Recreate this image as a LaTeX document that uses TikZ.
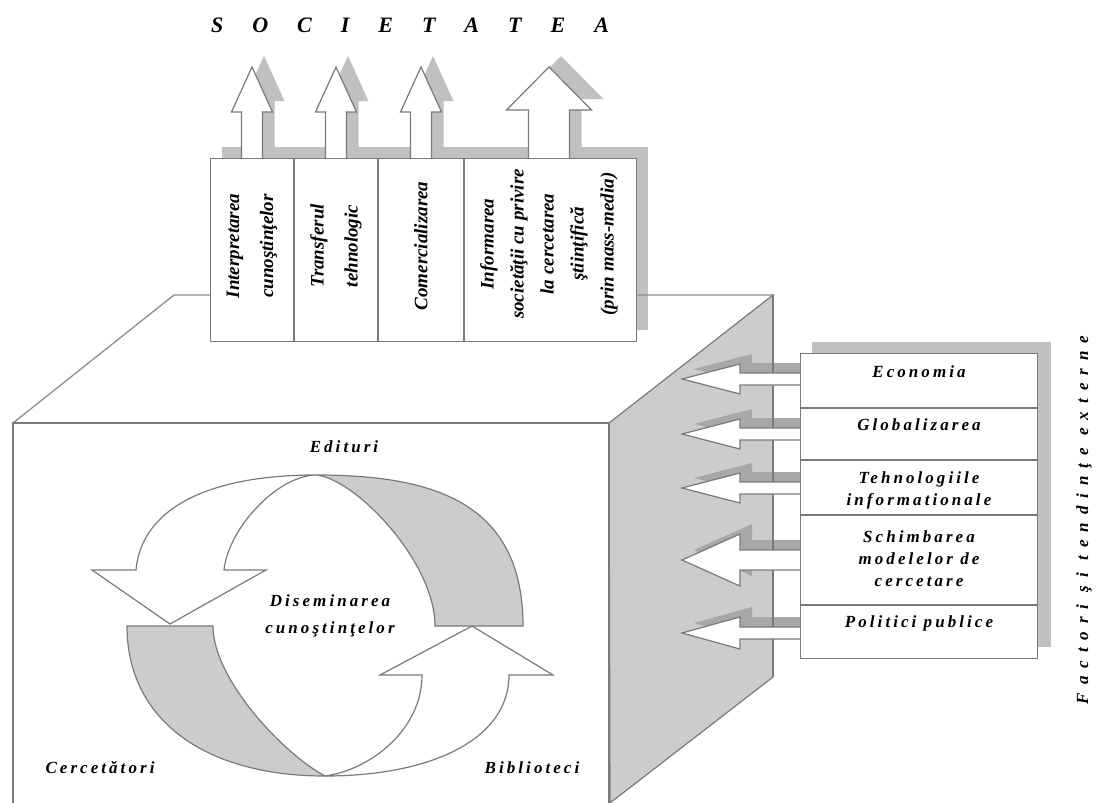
\documentclass[tikz,border=0pt]{standalone}
\usepackage{fontspec}
\setmainfont{Liberation Serif}
\newfontfamily\spacedfont[LetterSpace=18]{Liberation Serif}
\newfontfamily\widefont[LetterSpace=47]{Liberation Serif}

\definecolor{edgec}{RGB}{122,122,122}
\definecolor{facec}{RGB}{204,204,204}
\definecolor{shadec}{RGB}{192,192,192}
\definecolor{ashade}{RGB}{168,168,168}

% block arrow pointing up, standing on the top edge of the upper box (y=158)
% #1 centre x, #2 half shaft width, #3 half head width, #4 head base y, #5 tip y
\newcommand{\uparrowpath}[5]{(#1-#2,158) -- (#1-#2,#4) -- (#1-#3,#4) -- (#1,#5) -- (#1+#3,#4) -- (#1+#2,#4) -- (#1+#2,158)}
% block arrow pointing left, leaving the factor box (x=800)
% #1 centre y, #2 half shaft height, #3 half head height
\newcommand{\leftarrowpath}[3]{(800,#1-#2) -- (740,#1-#2) -- (740,#1-#3) -- (682,#1) -- (740,#1+#3) -- (740,#1+#2) -- (800,#1+#2)}

\tikzset{
  edge/.style={draw=edgec, line width=1.3pt},
  whiteshape/.style={fill=white, draw=edgec, line width=1.2pt, line join=miter},
  grayshape/.style={fill=facec, draw=edgec, line width=1.2pt, line join=miter},
  collabel/.style={font=\bfseries\itshape\fontsize{19}{34}\selectfont, align=center, rotate=90, inner sep=0pt},
  factorlabel/.style={font=\spacedfont\bfseries\itshape\fontsize{17}{22}\selectfont, align=center, inner sep=0pt},
  cyclelabel/.style={font=\spacedfont\bfseries\itshape\fontsize{17}{27}\selectfont, align=center, inner sep=0pt},
}

\begin{document}
\begin{tikzpicture}[x=1pt, y=-1pt]
\useasboundingbox (0,0) rectangle (1109,803);
\fill[white] (0,0) rectangle (1109,803);

% side face of the block
\filldraw[grayshape] (609,423) -- (773,295) -- (773,677) -- (610,803) -- cycle;

% shadow of the upper box and its arrows
\begin{scope}[shift={(12,-11)}]
  \fill[shadec] (210,158) rectangle (636,341);
  \fill[shadec] \uparrowpath{252}{10.5}{20.5}{112}{67};
  \fill[shadec] \uparrowpath{336}{10.5}{20.5}{112}{67};
  \fill[shadec] \uparrowpath{421}{10.5}{20.5}{112}{67};
  \fill[shadec] \uparrowpath{549}{20.5}{42.5}{110}{67};
\end{scope}

% top face outline
\draw[edge, draw=edgec!85] (13,423) -- (174,295) -- (773,295);

% arrows towards society
\filldraw[whiteshape] \uparrowpath{252}{10.5}{20.5}{112}{67};
\filldraw[whiteshape] \uparrowpath{336}{10.5}{20.5}{112}{67};
\filldraw[whiteshape] \uparrowpath{421}{10.5}{20.5}{112}{67};
\filldraw[whiteshape] \uparrowpath{549}{20.5}{42.5}{110}{67};

% upper box with four columns
\node[whiteshape, anchor=north west, minimum width=426pt, minimum height=183pt, inner sep=0pt] (ubox) at (210,158) {};
\draw[edge] (294,158) -- (294,341);
\draw[edge] (378,158) -- (378,341);
\draw[edge] (464,158) -- (464,341);

% front face
\draw[edge] (13,803) -- (13,423) -- (609,423) -- (609,803);

% shadows of the factor box and its arrows
\fill[shadec] (812,342) rectangle (1051,647);
\begin{scope}[shift={(12,-10)}]
  \fill[ashade] \leftarrowpath{379}{6}{15};
  \fill[ashade] \leftarrowpath{434}{6}{15};
  \fill[ashade] \leftarrowpath{488}{6}{15};
  \fill[ashade] \leftarrowpath{560}{10}{26};
  \fill[ashade] \leftarrowpath{633}{6}{16};
\end{scope}
\draw[edge] (773,295) -- (773,677);

% arrows of the external factors
\filldraw[whiteshape] \leftarrowpath{379}{6}{15};
\filldraw[whiteshape] \leftarrowpath{434}{6}{15};
\filldraw[whiteshape] \leftarrowpath{488}{6}{15};
\filldraw[whiteshape] \leftarrowpath{560}{10}{26};
\filldraw[whiteshape] \leftarrowpath{633}{6}{16};

% factor box
\node[whiteshape, anchor=north west, minimum width=237pt, minimum height=305pt, inner sep=0pt] (rbox) at (800,353) {};
\draw[edge] (800,408) -- (1037,408);
\draw[edge] (800,460) -- (1037,460);
\draw[edge] (800,515) -- (1037,515);
\draw[edge] (800,605) -- (1037,605);

% dissemination cycle: upper arrow (white front, grey back)
\filldraw[whiteshape] (136,570) .. controls (142,505) and (215,475) .. (315,475)
  .. controls (275,477) and (228,530) .. (224,570) -- (266,570) -- (170,624) -- (92,570) -- cycle;
\filldraw[grayshape] (315,475) .. controls (430,475) and (523,500) .. (523,626)
  -- (435,626) .. controls (435,560) and (352,476) .. (315,475) -- cycle;
% lower arrow (grey back, white front)
\filldraw[grayshape] (127,626) -- (213,626) .. controls (213,680) and (285,755) .. (325,776)
  .. controls (205,776) and (127,720) .. (127,626) -- cycle;
\filldraw[whiteshape] (325,776) .. controls (430,776) and (509,740) .. (509,675)
  -- (553,675) -- (472,626) -- (380,675) -- (422,675)
  .. controls (422,730) and (370,770) .. (325,776) -- cycle;

% texts
\node[font=\bfseries\itshape\fontsize{22}{22}\selectfont, inner sep=0pt] (society) at (410,25)
  {S\hspace{29pt}O\hspace{29pt}C\hspace{29pt}I\hspace{29pt}E\hspace{29pt}T\hspace{29pt}A\hspace{29pt}T\hspace{29pt}E\hspace{29pt}A};

\node[collabel] (interp) at (252,246) {Interpretarea\\cunoştinţelor};
\node[collabel] (transf) at (336,246) {Transferul\\tehnologic};
\node[collabel] (comerc) at (421,246) {Comercializarea};
\node[collabel, font=\bfseries\itshape\fontsize{19}{30}\selectfont] (inform) at (549,244)
  {Informarea\\societăţii cu privire\\la cercetarea\\ştiinţifică\\(prin mass-media)};

\node[factorlabel] (econ) at (919,372) {Economia};
\node[factorlabel] (glob) at (919,425) {Globalizarea};
\node[factorlabel] (tehn) at (919,490) {Tehnologiile\\informationale};
\node[factorlabel] (schimb) at (919,559) {Schimbarea\\modelelor de\\cercetare};
\node[factorlabel] (polit) at (919,623) {Politici publice};

\node[font=\widefont\bfseries\itshape\fontsize{17}{17}\selectfont, rotate=90, inner sep=0pt] (factori) at (1084,520)
  {Factori şi tendinţe externe};

\node[cyclelabel] (edit) at (344,447) {Edituri};
\node[cyclelabel] (disem) at (330,616) {Diseminarea\\cunoştinţelor};
\node[cyclelabel] (cerc) at (100,768) {Cercetători};
\node[cyclelabel] (bibl) at (532,768) {Biblioteci};
\end{tikzpicture}
\end{document}
